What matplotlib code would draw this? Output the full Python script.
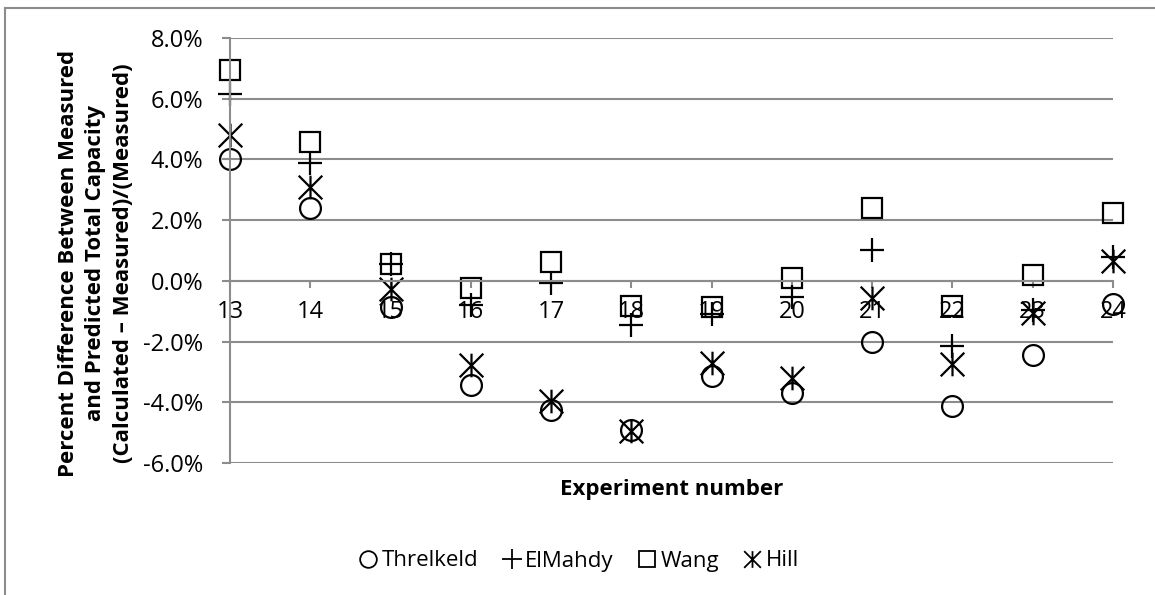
import matplotlib.pyplot as plt
from matplotlib.path import Path
from matplotlib.ticker import FuncFormatter
from matplotlib.lines import Line2D

plt.rcParams['font.family'] = ['Open Sans', 'DejaVu Sans']

experiments = [13, 14, 15, 16, 17, 18, 19, 20, 21, 22, 23, 24]
threlkeld = [4.00, 2.39, -0.85, -3.42, -4.24, -4.90, -3.13, -3.69, -2.03, -4.11, -2.43, -0.76]
elmahdy = [6.14, 3.89, 0.55, -0.80, -0.08, -1.45, -1.10, -0.52, 1.02, -2.16, -0.95, 0.80]
wang = [6.94, 4.58, 0.56, -0.24, 0.61, -0.84, -0.87, 0.09, 2.41, -0.84, 0.20, 2.23]
hill = [4.80, 3.10, -0.27, -2.76, -3.97, -4.96, -2.71, -3.20, -0.57, -2.74, -1.05, 0.66]

# Excel style "star": X with a vertical bar
star = Path([(0, -1), (0, 1), (-1, -1), (1, 1), (-1, 1), (1, -1)],
            [Path.MOVETO, Path.LINETO, Path.MOVETO, Path.LINETO, Path.MOVETO, Path.LINETO])

fig = plt.figure(figsize=(11.55, 5.95), dpi=100)
ax = fig.add_axes([230 / 1155, 1 - 463 / 595, (1113 - 230) / 1155, (463 - 38) / 595])

gcol = '#8c8c8c'
kw = dict(linestyle='none', color='black', markerfacecolor='none', markeredgewidth=1.6, clip_on=False)
ax.plot(experiments, threlkeld, marker='o', markersize=15, label='Threlkeld', **kw)
ax.plot(experiments, elmahdy, marker='+', markersize=17, label='ElMahdy', **kw)
ax.plot(experiments, wang, marker='s', markersize=15, label='Wang', **kw)
ax.plot(experiments, hill, marker=star, markersize=17, label='Hill', **kw)

ax.set_xlim(13, 24)
ax.set_ylim(-6, 8)
ax.set_yticks([-6, -4, -2, 0, 2, 4, 6, 8])
ax.yaxis.set_major_formatter(FuncFormatter(lambda v, p: f'{v:.1f}%'))
ax.set_xticks(experiments)
ax.grid(axis='y', color=gcol, linewidth=1.5)
ax.set_axisbelow(True)

for s in ['top', 'right']:
    ax.spines[s].set_visible(False)
ax.spines['bottom'].set_position(('data', 0))
ax.spines['bottom'].set_color(gcol)
ax.spines['bottom'].set_linewidth(1.5)
ax.spines['left'].set_color(gcol)
ax.spines['left'].set_linewidth(1.5)
ax.tick_params(axis='y', length=6, width=1.5, color=gcol, labelsize=17, pad=13)
ax.tick_params(axis='x', length=5, width=1.5, color=gcol, labelsize=17, pad=9, direction='out')

fig.text(96 / 1155, 1 - 263 / 595,
         'Percent Difference Between Measured\nand Predicted Total Capacity\n(Calculated \u2013 Measured)/(Measured)',
         rotation=90, ha='center', va='center', multialignment='center',
         fontsize=16, fontweight='bold', linespacing=1.4)
fig.text(672 / 1155, 1 - 490 / 595, 'Experiment number', ha='center', va='center',
         fontsize=16, fontweight='bold')

handles = [Line2D([], [], marker=m, linestyle='none', color='black', markerfacecolor='none',
                  markersize=s, markeredgewidth=1.3)
           for m, s in [('o', 12), ('+', 14), ('s', 12), (star, 12)]]
fig.legend(handles, ['Threlkeld', 'ElMahdy', 'Wang', 'Hill'], loc='center',
           bbox_to_anchor=(578 / 1155, 1 - 561 / 595), ncol=4, frameon=False, fontsize=16,
           handletextpad=0.1, columnspacing=1.0, handlelength=1.0)

# chart frame (top and left edges visible)
fig.add_artist(Line2D([5 / 1155, 1], [1 - 8 / 595, 1 - 8 / 595], color=gcol, linewidth=1.5))
fig.add_artist(Line2D([5 / 1155, 5 / 1155], [0, 1 - 8 / 595], color=gcol, linewidth=1.5))

fig.savefig('out.png', dpi=100)
